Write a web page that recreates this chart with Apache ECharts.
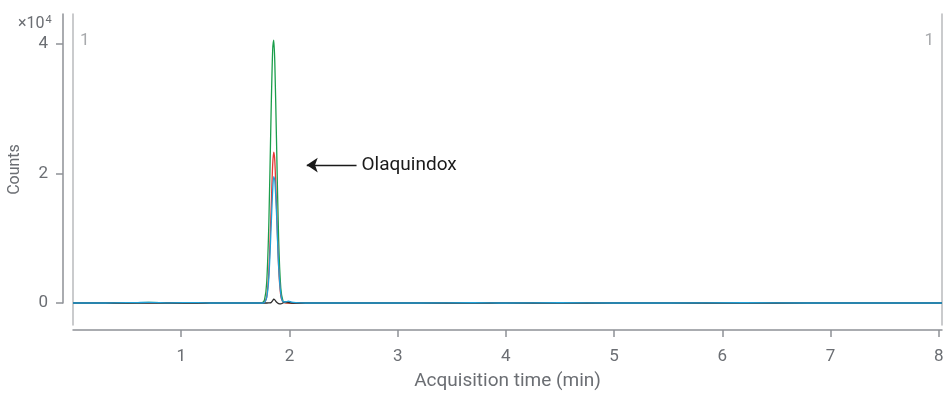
<!DOCTYPE html>
<html><head><meta charset="utf-8">
<script src="https://cdn.jsdelivr.net/npm/echarts@6/dist/echarts.min.js"></script>
<style>html,body{margin:0;padding:0;background:#fff}#c{width:946px;height:393px}</style>
</head><body><div id="c"></div>
<script>
// Acquisition time (min)
const times = [0.0, 0.3, 0.6, 0.7, 0.9, 1.15, 1.3, 1.5, 1.65, 1.72, 1.75, 1.77, 1.79, 1.81, 1.83, 1.845, 1.855, 1.865, 1.88, 1.90, 1.92, 1.94, 1.96, 1.99, 2.02, 2.06, 2.15, 2.4, 2.8, 3.2, 3.7, 4.0, 4.5, 5.0, 5.5, 6.2, 6.8, 7.5, 8.03];
// Counts per trace
const greenCounts = [0, 0, 60, 80, 20, 50, 0, 0, 0, 0, 50, 500, 3200, 12500, 29000, 39000, 40600, 37000, 25500, 9900, 2300, 330, 40, 0, 0, 0, 0, 0, 0, 0, 40, 0, 30, 0, 0, 40, 0, 0, 0];
const redCounts   = [0, 0, 50, 70, 20, 40, 0, 0, 0, 0, 0, 100, 930, 4900, 14100, 21300, 23300, 21900, 15200, 5600, 1100, 130, 20, 0, 0, 0, 0, 0, 0, 0, 30, 0, 20, 0, 0, 30, 0, 0, 0];
const blueCounts  = [0, 0, 70, 90, 30, 60, 0, 0, 0, 0, 0, 100, 820, 4000, 11400, 17400, 19500, 18900, 14000, 5800, 1400, 200, 150, 300, 120, 40, 0, 0, 0, 0, 60, 0, 40, 0, 0, 50, 0, 0, 0];
const blackCounts = [0, 0, 0, 0, 0, 0, 0, 0, 0, 0, 0, 0, 0, 20, 60, 350, 600, 480, 150, -100, -150, 0, 180, 100, 0, 0, 0, 0, 0, 0, 0, 0, 0, 0, 0, 0, 0, 0, 0];
const xTicks = [1, 2, 3, 4, 5, 6, 7, 8];
const yTicks = [0, 20000, 40000];
const peakLabel = 'Olaquindox';
const arrowFrom = [2.62, 21300];
const arrowTo = [2.16, 21300];

const pair = (vals) => times.map((t, i) => [t, vals[i]]);
const TXT = '#6b6e73';
const FONT = 'Roboto';
const YMIN = -3400, YMAX = 44630;

const chart = echarts.init(document.getElementById('c'), null, {renderer: 'canvas'});
const lineSeries = (name, color, vals, z) => ({
  name, type: 'line', xAxisIndex: 0, yAxisIndex: 0, data: pair(vals),
  showSymbol: false, symbol: 'none', smooth: 0.3, z,
  lineStyle: {color, width: 1.3}, emphasis: {disabled: true}
});
const blue = lineSeries('blue', '#1ea0d8', blueCounts, 5);
blue.markLine = {
  silent: true, symbol: ['none', 'arrow'], symbolSize: 11,
  lineStyle: {color: '#1a1a1a', width: 1.3, type: 'solid'},
  label: {show: true, position: 'start', formatter: peakLabel, color: '#1a1a1a', fontSize: 19, fontFamily: FONT, distance: 5},
  data: [[{coord: arrowFrom}, {coord: arrowTo}]],
  animation: false
};

chart.setOption({
  animation: false,
  textStyle: {fontFamily: FONT},
  grid: [
    {left: 73, right: 4, top: 14, height: 311, containLabel: false, outerBoundsMode: 'none'},
    {left: 63, top: 14, height: 289, width: 10, containLabel: false, outerBoundsMode: 'none'}
  ],
  xAxis: [
    {gridIndex: 0, type: 'value', min: 0, max: 8.03, offset: 5,
     name: 'Acquisition time (min)', nameLocation: 'middle', nameGap: 42,
     nameTextStyle: {color: TXT, fontSize: 19, fontFamily: FONT},
     axisLine: {show: true, onZero: false, lineStyle: {color: '#8e9196', width: 1.5}},
     axisTick: {show: true, length: 7, customValues: xTicks, lineStyle: {color: '#8e9196', width: 1.5}},
     axisLabel: {customValues: xTicks, color: TXT, fontSize: 17, margin: 18, fontFamily: FONT},
     splitLine: {show: false}},
    {gridIndex: 1, type: 'value', show: false}
  ],
  yAxis: [
    {gridIndex: 0, type: 'value', min: YMIN, max: YMAX, position: 'left',
     name: 'Counts', nameLocation: 'middle', nameGap: 50,
     nameTextStyle: {color: TXT, fontSize: 16, fontFamily: FONT},
     axisLine: {show: true, onZero: false, lineStyle: {color: '#b9babc', width: 1.5}},
     axisTick: {show: false}, axisLabel: {show: false}, splitLine: {show: false}},
    {gridIndex: 0, type: 'value', min: YMIN, max: YMAX, position: 'right',
     axisLine: {show: true, onZero: false, lineStyle: {color: '#b9babc', width: 1.5}},
     axisTick: {show: false}, axisLabel: {show: false}, splitLine: {show: false}},
    {gridIndex: 1, type: 'value', min: 0, max: YMAX, position: 'left',
     axisLine: {show: true, onZero: false, lineStyle: {color: '#8e9196', width: 1.5}},
     axisTick: {show: true, length: 7, customValues: yTicks, lineStyle: {color: '#8e9196', width: 1.5}},
     axisLabel: {customValues: yTicks, color: TXT, fontSize: 17, margin: 15, fontFamily: FONT,
                 formatter: v => String(v / 10000)},
     splitLine: {show: false}}
  ],
  graphic: [
    {type: 'text', left: 18, top: 15, style: {text: '{a|×10}{b|4}', rich: {
      a: {fill: TXT, fontSize: 16, fontFamily: FONT, verticalAlign: 'bottom'},
      b: {fill: TXT, fontSize: 11, fontFamily: FONT, verticalAlign: 'top', padding: [0, 0, 6, 1]}}}},
    {type: 'text', left: 80, top: 32, style: {text: '1', fill: '#a8aaad', font: '17px Roboto'}},
    {type: 'text', right: 12, top: 32, style: {text: '1', fill: '#a8aaad', font: '17px Roboto'}}
  ],
  series: [
    lineSeries('green', '#1b9e4b', greenCounts, 2),
    lineSeries('red', '#e53935', redCounts, 3),
    lineSeries('black', '#2b2b2b', blackCounts, 4),
    blue
  ]
});
</script></body></html>
